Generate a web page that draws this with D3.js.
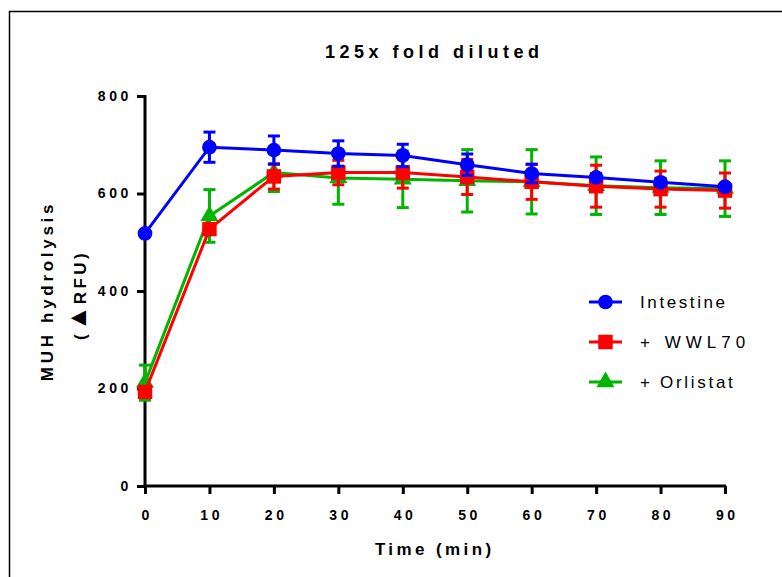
<!DOCTYPE html>
<html>
<head>
<meta charset="utf-8">
<script src="https://cdn.jsdelivr.net/npm/d3@7"></script>
<style>
  html, body { margin: 0; padding: 0; background: #fff; }
  svg { display: block; font-family: "Liberation Sans", Arial, sans-serif; }
</style>
</head>
<body>
<svg id="chart" width="782" height="577"></svg>
<script>
// Time points (min)
const times = [0, 10, 20, 30, 40, 50, 60, 70, 80, 90];

// Mean ΔRFU per series
const intestine = [518, 695, 689, 682, 678, 659, 641, 633, 623, 614];
const wwl70     = [193, 527, 635, 643, 643, 634, 624, 615, 609, 606];
const orlistat  = [212, 554, 643, 632, 629, 626, 624, 616, 612, 610];

// Error (± SD) per series
const intestineErr = [6, 31, 29, 26, 23, 22, 19, 8, 8, 6];
const wwl70Err     = [6, 10, 26, 25, 32, 36, 36, 43, 37, 36];
const orlistatErr  = [36, 54, 39, 54, 58, 64, 66, 59, 55, 57];

const seriesNames = ["Intestine", "+ WWL70", "+ Orlistat"];
const xTicks = [0, 10, 20, 30, 40, 50, 60, 70, 80, 90];
const yTicks = [0, 200, 400, 600, 800];

const colors = { "Intestine": "#0000ff", "+ WWL70": "#ff0000", "+ Orlistat": "#00b400" };
const shapes = { "Intestine": "circle", "+ WWL70": "square", "+ Orlistat": "triangle" };
const legendSpacing = { "Intestine": 2.6, "+ WWL70": 5, "+ Orlistat": 2.7 };

const series = [
  { name: "+ Orlistat", values: orlistat, err: orlistatErr },
  { name: "+ WWL70",    values: wwl70,    err: wwl70Err },
  { name: "Intestine",  values: intestine, err: intestineErr }
];

const svg = d3.select("#chart");

// outer frame
svg.append("rect")
  .attr("x", 9.5).attr("y", 11.5)
  .attr("width", 800).attr("height", 600)
  .attr("fill", "none").attr("stroke", "#000").attr("stroke-width", 1.5);

const x = d3.scaleLinear().domain([0, 90]).range([145, 725]);
const y = d3.scaleLinear().domain([0, 800]).range([486, 96]);

// axes
const tickSpacing = 3.6;
const xAxis = d3.axisBottom(x).tickValues(xTicks).tickSize(8).tickPadding(16).tickSizeOuter(0);
const yAxis = d3.axisLeft(y).tickValues(yTicks).tickSize(8).tickPadding(5).tickSizeOuter(0);

const gx = svg.append("g").attr("transform", "translate(0,486)").call(xAxis);
const gy = svg.append("g").attr("transform", "translate(145,0)").call(yAxis);

[gx, gy].forEach(g => {
  g.select(".domain").attr("stroke", "#000").attr("stroke-width", 3);
  g.selectAll(".tick line").attr("stroke", "#000").attr("stroke-width", 3);
  g.selectAll(".tick text")
    .attr("fill", "#000")
    .style("font-family", "'Liberation Sans', Arial, sans-serif")
    .style("font-size", "14px")
    .style("font-weight", "bold")
    .style("letter-spacing", tickSpacing + "px");
});
// keep centred labels centred despite the trailing letter gap
gx.selectAll(".tick text").attr("dx", tickSpacing / 2);
gx.select(".domain").attr("d", "M145,0H726");
gy.select(".domain").attr("d", "M0,486V95");

// symbol generator per series
function symbolPath(shape) {
  if (shape === "circle") return d3.symbol(d3.symbolCircle, 170)();
  if (shape === "square") return d3.symbol(d3.symbolSquare, 210)();
  return d3.symbol(d3.symbolTriangle, 140)();
}

const line = d3.line().x(d => x(d.t)).y(d => y(d.v));

series.forEach(s => {
  const col = colors[s.name];
  const pts = times.map((t, i) => ({ t, v: s.values[i], e: s.err[i] }));
  const g = svg.append("g");

  // error bars
  const eb = g.selectAll(".eb").data(pts).enter().append("g");
  eb.append("line")
    .attr("x1", d => x(d.t)).attr("x2", d => x(d.t))
    .attr("y1", d => y(d.v + d.e)).attr("y2", d => y(d.v - d.e))
    .attr("stroke", col).attr("stroke-width", 3);
  eb.append("line")
    .attr("x1", d => x(d.t) - 6).attr("x2", d => x(d.t) + 6)
    .attr("y1", d => y(d.v + d.e)).attr("y2", d => y(d.v + d.e))
    .attr("stroke", col).attr("stroke-width", 3);
  eb.append("line")
    .attr("x1", d => x(d.t) - 6).attr("x2", d => x(d.t) + 6)
    .attr("y1", d => y(d.v - d.e)).attr("y2", d => y(d.v - d.e))
    .attr("stroke", col).attr("stroke-width", 3);

  // connecting line
  g.append("path").datum(pts)
    .attr("d", line)
    .attr("fill", "none").attr("stroke", col).attr("stroke-width", 3);

  // markers
  g.selectAll(".m").data(pts).enter().append("path")
    .attr("d", symbolPath(shapes[s.name]))
    .attr("transform", d => `translate(${x(d.t)},${y(d.v)})`)
    .attr("fill", col);
});

// legend
const legendY = d3.scalePoint().domain(seriesNames).range([302, 382]);
const lg = svg.append("g");
seriesNames.forEach(name => {
  const col = colors[name];
  const ly = legendY(name);
  lg.append("line")
    .attr("x1", 589).attr("x2", 622).attr("y1", ly).attr("y2", ly)
    .attr("stroke", col).attr("stroke-width", 3);
  lg.append("path")
    .attr("d", symbolPath(shapes[name]))
    .attr("transform", `translate(605.5,${ly})`)
    .attr("fill", col);
  lg.append("text")
    .attr("x", 640).attr("y", ly)
    .attr("dy", "0.36em")
    .style("font-size", "17px")
    .style("letter-spacing", legendSpacing[name] + "px")
    .attr("fill", "#000")
    .text(name);
});

// title
svg.append("text")
  .attr("x", 432).attr("y", 58)
  .attr("dx", 2.25)
  .attr("text-anchor", "middle")
  .style("font-size", "18px").style("font-weight", "bold")
  .style("letter-spacing", "4.5px")
  .text("125x fold diluted");

// x axis title
svg.append("text")
  .attr("x", 433).attr("y", 555)
  .attr("dx", 1.7)
  .attr("text-anchor", "middle")
  .style("font-size", "17px").style("font-weight", "bold")
  .style("letter-spacing", "3.4px")
  .text("Time (min)");

// y axis title (two lines)
svg.append("text")
  .attr("transform", "translate(53,291) rotate(-90)")
  .attr("text-anchor", "middle")
  .style("font-size", "17px").style("font-weight", "bold")
  .style("letter-spacing", "3.7px")
  .text("MUH hydrolysis");
const sub = svg.append("text")
  .attr("transform", "translate(86,295) rotate(-90)")
  .attr("text-anchor", "middle")
  .style("font-size", "17px").style("font-weight", "bold")
  .style("letter-spacing", "3.4px");
sub.append("tspan").text("(");
sub.append("tspan").style("font-size", "26px").style("letter-spacing", "1px").text("▲");
sub.append("tspan").text("RFU)");
</script>
</body>
</html>
